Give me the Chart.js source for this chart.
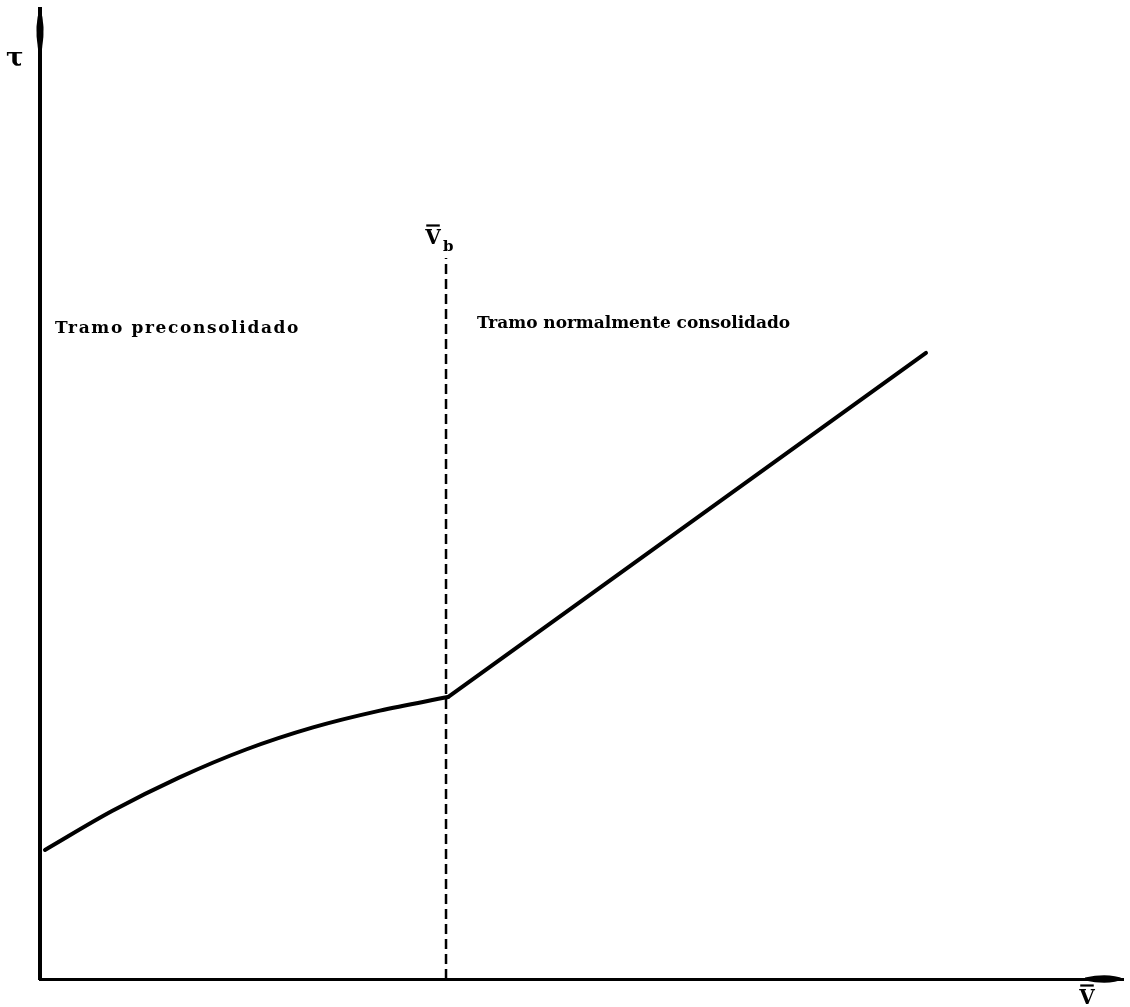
<!DOCTYPE html>
<html>
<head>
<meta charset="utf-8">
<script src="https://cdn.jsdelivr.net/npm/chart.js@4/dist/chart.umd.min.js"></script>
<style>
  html, body { margin: 0; padding: 0; background: #fff; }
  #c { display: block; }
</style>
</head>
<body>
<canvas id="c" width="1130" height="1007"></canvas>
<script>
// Effective normal stress (x) and shear strength (y), in arbitrary units 0..100
const preconsolidatedStress = [0.46, 6.65, 12.83, 19.02, 25.21, 31.39, 37.67];
const preconsolidatedShear  = [13.30, 17.31, 20.76, 23.66, 25.94, 27.67, 29.07];
const normalStress = [37.67, 81.81];
const normalShear  = [29.07, 64.54];
// Breakpoint stress and the height of its reference line
const breakStress = [37.49, 37.49];
const breakShear  = [0, 74.33];
// Texts
const axisTitleY = 'τ';
const axisTitleX = 'V';
const breakLabel = ['V', 'b'];
const regionLabels = ['Tramo preconsolidado', 'Tramo normalmente consolidado'];

const toPoints = (xs, ys) => xs.map((x, i) => ({ x, y: ys[i] }));

const SERIF = '"DejaVu Serif", "Liberation Serif", serif';

// Draws a text spread (or tightened slightly) to span a given width
function fitText(ctx, text, x, y, width, font) {
  ctx.font = font;
  if ('letterSpacing' in ctx) {
    ctx.letterSpacing = '0px';
    const w = ctx.measureText(text).width;
    const sp = Math.max(-1, (width - w) / text.length);
    ctx.letterSpacing = sp.toFixed(2) + 'px';
    ctx.fillText(text, x, y);
    ctx.letterSpacing = '0px';
  } else {
    ctx.fillText(text, x, y, width);
  }
}

function barredV(ctx, text, cx, baseline, size) {
  ctx.font = 'bold ' + size + 'px ' + SERIF;
  ctx.textAlign = 'center';
  ctx.fillText(text, cx, baseline);
  const w = ctx.measureText(text).width;
  ctx.fillRect(cx - w / 2 + 1, baseline - size * 0.98, w - 2, 2.2);
  ctx.textAlign = 'left';
}

const annotations = {
  id: 'annotations',
  afterDraw(chart) {
    const { ctx, chartArea: a } = chart;
    ctx.save();
    ctx.fillStyle = '#000';

    // spindle-shaped arrowhead on the vertical axis
    const ax = a.left;
    ctx.beginPath();
    ctx.moveTo(ax, a.top - 1);
    ctx.quadraticCurveTo(ax + 6, a.top + 16, ax + 2, a.top + 40);
    ctx.lineTo(ax - 2, a.top + 40);
    ctx.quadraticCurveTo(ax - 6, a.top + 16, ax, a.top - 1);
    ctx.fill();

    // spindle-shaped arrowhead on the horizontal axis
    const ay = a.bottom;
    ctx.beginPath();
    ctx.moveTo(a.right + 1, ay);
    ctx.quadraticCurveTo(a.right - 14, ay - 6.5, a.right - 38, ay - 1.5);
    ctx.lineTo(a.right - 38, ay + 1.5);
    ctx.quadraticCurveTo(a.right - 14, ay + 6.5, a.right + 1, ay);
    ctx.fill();

    // axis titles
    ctx.textBaseline = 'alphabetic';
    ctx.font = 'bold 26px ' + SERIF;
    ctx.fillText(axisTitleY, 6, 66);
    barredV(ctx, axisTitleX, 1087, 1004, 20);

    // breakpoint label
    const bx = chart.scales.x.getPixelForValue(breakStress[0]);
    barredV(ctx, breakLabel[0], bx - 13, 244, 20);
    ctx.font = 'bold 15px ' + SERIF;
    ctx.fillText(breakLabel[1], bx - 3, 251);

    // region labels
    fitText(ctx, regionLabels[0], 55, 333, 245, 'bold 17px ' + SERIF);
    fitText(ctx, regionLabels[1], 477, 328, 313, 'bold 17px ' + SERIF);

    ctx.restore();
  }
};

new Chart(document.getElementById('c'), {
  type: 'scatter',
  data: {
    datasets: [
      {
        data: toPoints(preconsolidatedStress, preconsolidatedShear),
        showLine: true,
        borderColor: '#000',
        borderWidth: 4,
        pointRadius: 0,
        cubicInterpolationMode: 'monotone',
        borderCapStyle: 'round',
        clip: false
      },
      {
        data: toPoints(normalStress, normalShear),
        showLine: true,
        borderColor: '#000',
        borderWidth: 4,
        pointRadius: 0,
        borderCapStyle: 'round',
        clip: false
      },
      {
        data: toPoints(breakStress, breakShear),
        showLine: true,
        borderColor: '#000',
        borderWidth: 2.5,
        borderDash: [10, 5],
        pointRadius: 0,
        clip: false
      }
    ]
  },
  options: {
    responsive: false,
    devicePixelRatio: 1,
    animation: false,
    layout: { padding: { left: 32, top: 9, right: 7, bottom: 20 } },
    plugins: { legend: { display: false }, tooltip: { enabled: false } },
    scales: {
      x: {
        type: 'linear', min: 0, max: 100,
        grid: { display: false },
        ticks: { display: false },
        border: { display: true, color: '#000', width: 3 }
      },
      y: {
        type: 'linear', min: 0, max: 100,
        grid: { display: false },
        ticks: { display: false },
        border: { display: true, color: '#000', width: 4 }
      }
    }
  },
  plugins: [annotations]
});
</script>
</body>
</html>
